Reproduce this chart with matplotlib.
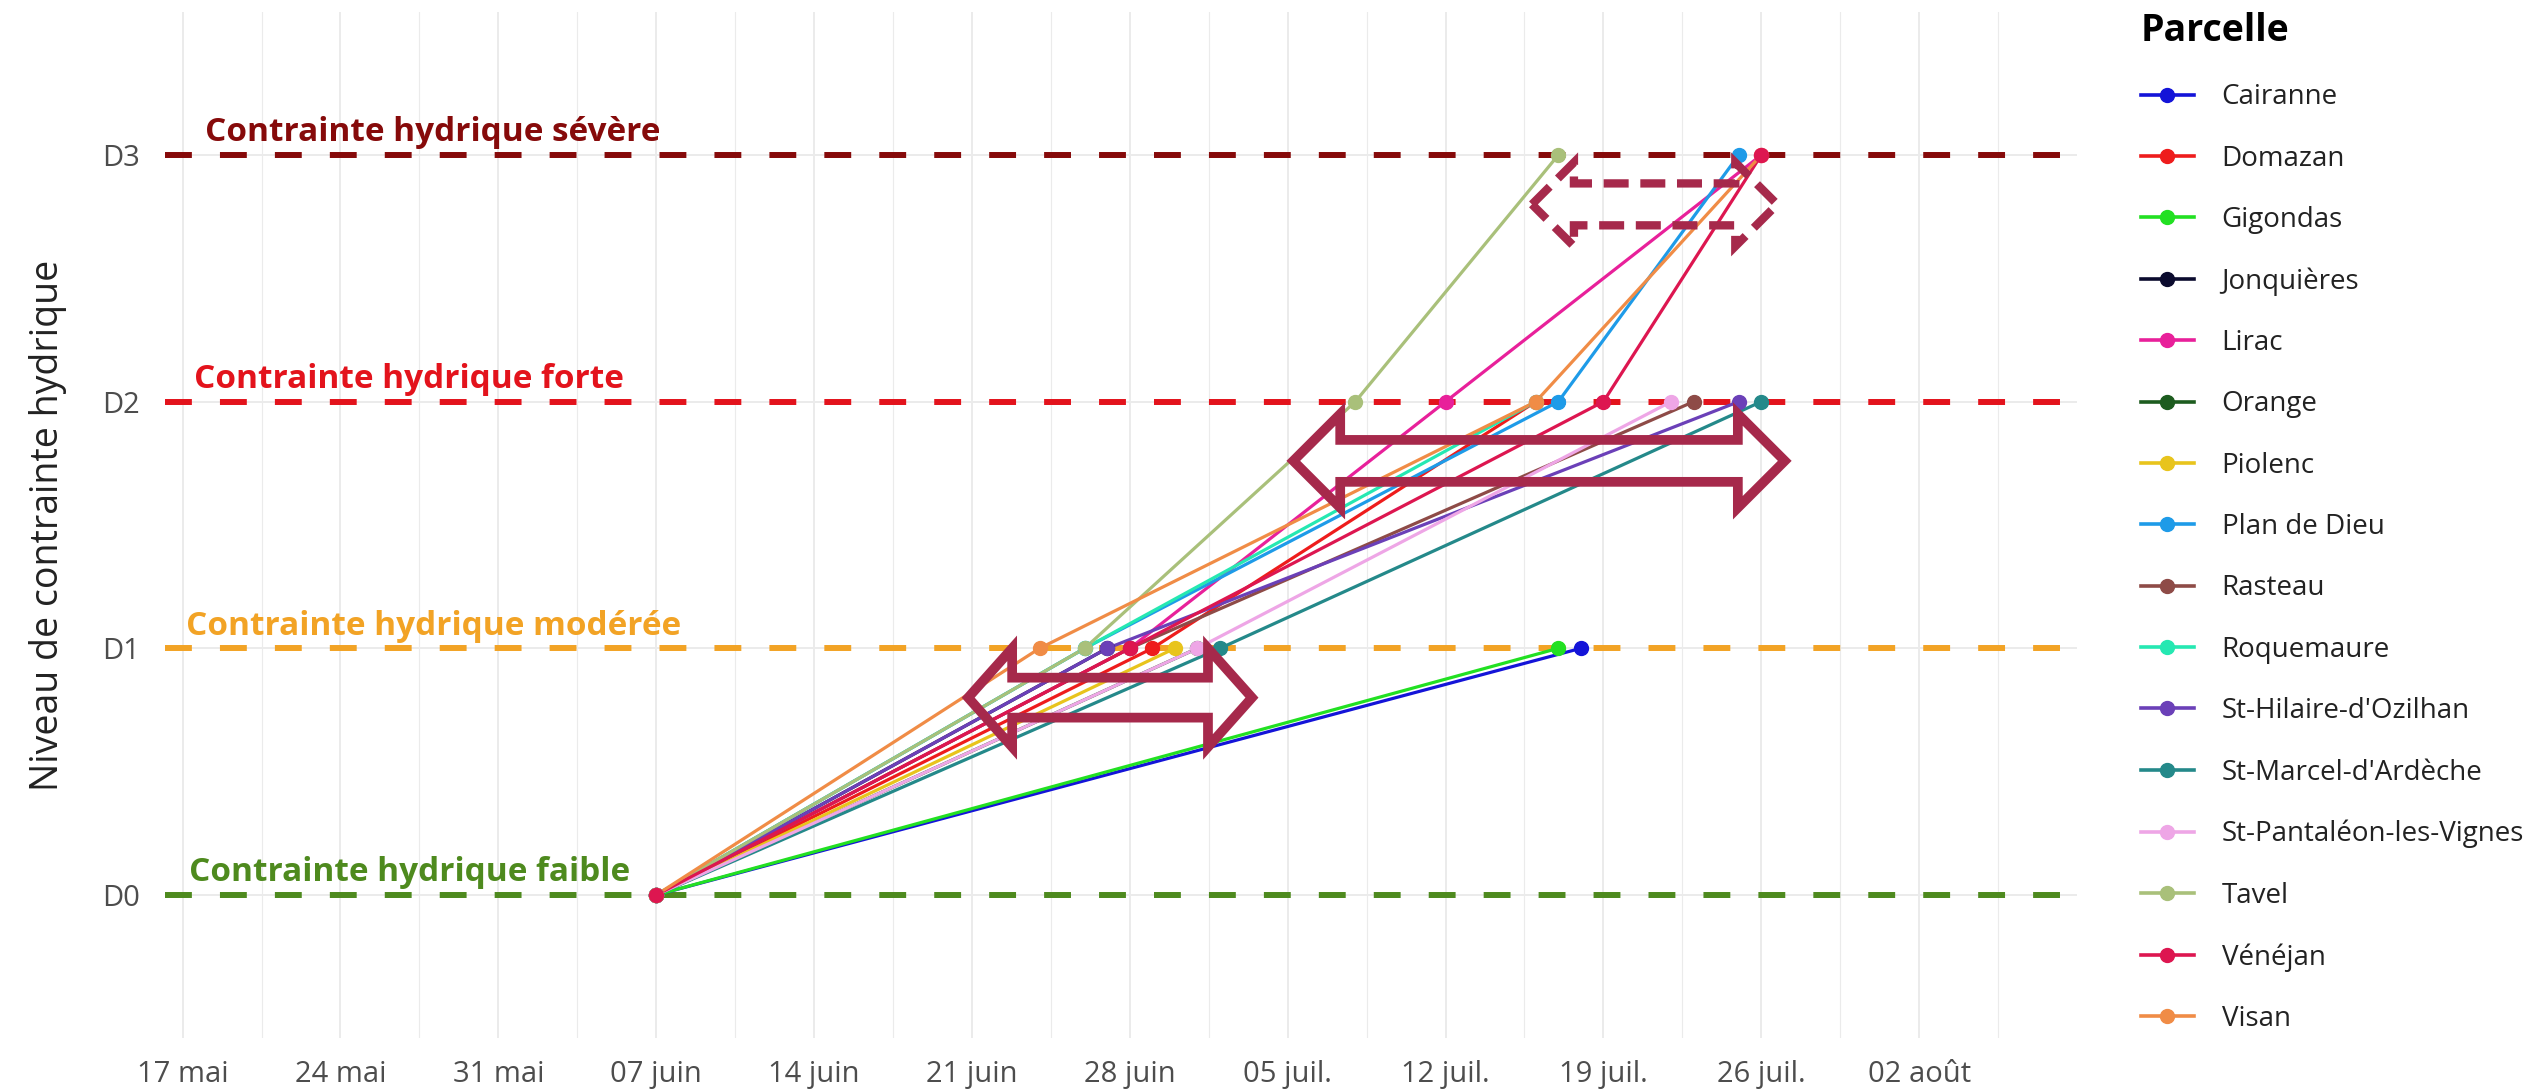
import numpy as np
import matplotlib.pyplot as plt
import matplotlib.dates as mdates
import pandas as pd
from matplotlib.patches import Polygon
from matplotlib.lines import Line2D

plt.rcParams['font.family'] = ['Open Sans', 'DejaVu Sans']

# ========== Données ==========
parcelles = ['Cairanne', 'Domazan', 'Gigondas', 'Jonquières', 'Lirac', 'Orange',
             'Piolenc', 'Plan de Dieu', 'Rasteau', 'Roquemaure',
             "St-Hilaire-d'Ozilhan", "St-Marcel-d'Ardèche",
             'St-Pantaléon-les-Vignes', 'Tavel', 'Vénéjan', 'Visan']

couleurs = ['#1414D8', '#EE1C1C', '#22E022', '#0B0B2E', '#E8209A', '#1D5C1F',
            '#E8C41C', '#1E9BE8', '#8E4B47', '#25E8B2',
            '#6B40B8', '#24898A', '#EEA6E6', '#A9C07A', '#DD1650', '#F08C46']

dates_obs = [
    ['2023-06-07', '2023-07-18'],
    ['2023-06-07', '2023-06-29', '2023-07-16'],
    ['2023-06-07', '2023-07-17'],
    ['2023-06-07', '2023-06-27'],
    ['2023-06-07', '2023-06-28', '2023-07-12', '2023-07-26'],
    ['2023-06-07', '2023-07-01'],
    ['2023-06-07', '2023-06-30'],
    ['2023-06-07', '2023-06-26', '2023-07-17', '2023-07-25'],
    ['2023-06-07', '2023-06-28', '2023-07-23'],
    ['2023-06-07', '2023-06-26', '2023-07-16'],
    ['2023-06-07', '2023-06-27', '2023-07-25'],
    ['2023-06-07', '2023-07-02', '2023-07-26'],
    ['2023-06-07', '2023-07-01', '2023-07-22'],
    ['2023-06-07', '2023-06-26', '2023-07-08', '2023-07-17'],
    ['2023-06-07', '2023-06-28', '2023-07-19', '2023-07-26'],
    ['2023-06-07', '2023-06-24', '2023-07-16', '2023-07-26'],
]

niveaux_obs = [
    [0, 1], [0, 1, 2], [0, 1], [0, 1], [0, 1, 2, 3], [0, 1], [0, 1],
    [0, 1, 2, 3], [0, 1, 2], [0, 1, 2], [0, 1, 2], [0, 1, 2], [0, 1, 2],
    [0, 1, 2, 3], [0, 1, 2, 3], [0, 1, 2, 3],
]

niveaux = ['D0', 'D1', 'D2', 'D3']
contraintes = ['Contrainte hydrique faible', 'Contrainte hydrique modérée',
               'Contrainte hydrique forte', 'Contrainte hydrique sévère']
couleurs_contraintes = ['#4E8A1E', '#F2A325', '#E3131C', '#860A0A']
x_textes = ['2023-05-17 07:00', '2023-05-17 04:00', '2023-05-17 12:00', '2023-05-18 00:00']

ticks_dates = pd.date_range('2023-05-17', '2023-08-02', freq='7D')
ticks_labels = ['17 mai', '24 mai', '31 mai', '07 juin', '14 juin', '21 juin',
                '28 juin', '05 juil.', '12 juil.', '19 juil.', '26 juil.', '02 août']

# flèches d'annotation : (début, fin, niveau, longueur tête en jours, demi-hauteur tête, demi-hauteur corps, pointillé)
fleches = [
    ('2023-06-20 20:00', '2023-07-03 10:00', 0.80, 1.95, 0.20, 0.081, False),
    ('2023-07-05 06:00', '2023-07-27 01:00', 1.76, 2.08, 0.19, 0.085, False),
    ('2023-07-15 20:00', '2023-07-26 17:00', 2.80, 1.86, 0.17, 0.085, True),
]

# ========== Figure ==========
W, H = 2534, 1092
fig = plt.figure(figsize=(W / 100, H / 100), dpi=100)
ax = fig.add_axes([165 / W, 1 - 1038 / H, (2077 - 165) / W, (1038 - 12) / H])

# grille
ax.set_xticks(mdates.date2num(ticks_dates))
ax.set_xticklabels(ticks_labels)
ax.set_xticks(mdates.date2num(ticks_dates) + 3.5, minor=True)
ax.set_yticks(range(len(niveaux)))
ax.set_yticklabels(niveaux)
ax.grid(True, which='major', color='#EBEBEB', lw=1.4)
ax.grid(True, which='minor', axis='x', color='#EBEBEB', lw=0.8)
ax.set_axisbelow(True)
for s in ax.spines.values():
    s.set_visible(False)
ax.tick_params(which='both', length=0)
ax.tick_params(axis='x', pad=16, labelsize=21, labelcolor='#4D4D4D')
ax.tick_params(axis='y', pad=18, labelsize=21, labelcolor='#4D4D4D')

# lignes de seuil
for i, (txt, c) in enumerate(zip(contraintes, couleurs_contraintes)):
    ax.axhline(i, color=c, lw=4.3, linestyle=(0, (4.5, 4.7)), zorder=1)
    ax.text(mdates.date2num(pd.Timestamp(x_textes[i])), i + 0.09, txt, color=c,
            fontsize=24, fontweight='bold', ha='left', va='center', zorder=2)

# séries
for nom, c, d, n in zip(parcelles, couleurs, dates_obs, niveaux_obs):
    x = mdates.date2num(pd.to_datetime(d))
    ax.plot(x, n, '-', color=c, lw=2.3, zorder=3)
for nom, c, d, n in zip(parcelles, couleurs, dates_obs, niveaux_obs):
    x = mdates.date2num(pd.to_datetime(d))
    z = 5 if nom == 'Vénéjan' else 4
    ax.plot(x, n, 'o', color=c, ms=10, mec=c, zorder=z)

# flèches
for debut, fin, yc, hl, hh, sh, pointille in fleches:
    x0 = mdates.date2num(pd.Timestamp(debut))
    x1 = mdates.date2num(pd.Timestamp(fin))
    pts = [(x0, yc), (x0 + hl, yc + hh), (x0 + hl, yc + sh), (x1 - hl, yc + sh),
           (x1 - hl, yc + hh), (x1, yc), (x1 - hl, yc - hh), (x1 - hl, yc - sh),
           (x0 + hl, yc - sh), (x0 + hl, yc - hh)]
    if pointille:
        poly = Polygon(pts, closed=True, fill=False, ec='#A6294B', lw=6.0,
                       linestyle=(0, (3.0, 1.4)), joinstyle='miter', zorder=6)
    else:
        poly = Polygon(pts, closed=True, fill=False, ec='#A6294B', lw=7.0,
                       joinstyle='miter', zorder=6)
    ax.add_patch(poly)

ax.set_xlim(mdates.date2num(pd.Timestamp('2023-05-17')) - 0.78,
            mdates.date2num(pd.Timestamp('2023-08-09')))
ax.set_ylim(-0.58, 3.58)

fig.text(48 / W, 1 - 525 / H, 'Niveau de contrainte hydrique', rotation=90,
         ha='center', va='center', fontsize=27, color='#222222')

# légende
handles = [Line2D([], [], color=c, marker='o', lw=2.6, ms=10) for c in couleurs]
leg = fig.legend(handles, parcelles, loc='upper left', bbox_to_anchor=(2141 / W, 1 - 12 / H),
                 frameon=False, title='Parcelle', fontsize=20, labelspacing=1.2,
                 handlelength=1.9, handletextpad=1.0, borderpad=0, borderaxespad=0,
                 alignment='left', title_fontproperties={'weight': 'bold', 'size': 27})
for t in leg.get_texts():
    t.set_color('#222222')

plt.savefig('out.png', dpi=100)
